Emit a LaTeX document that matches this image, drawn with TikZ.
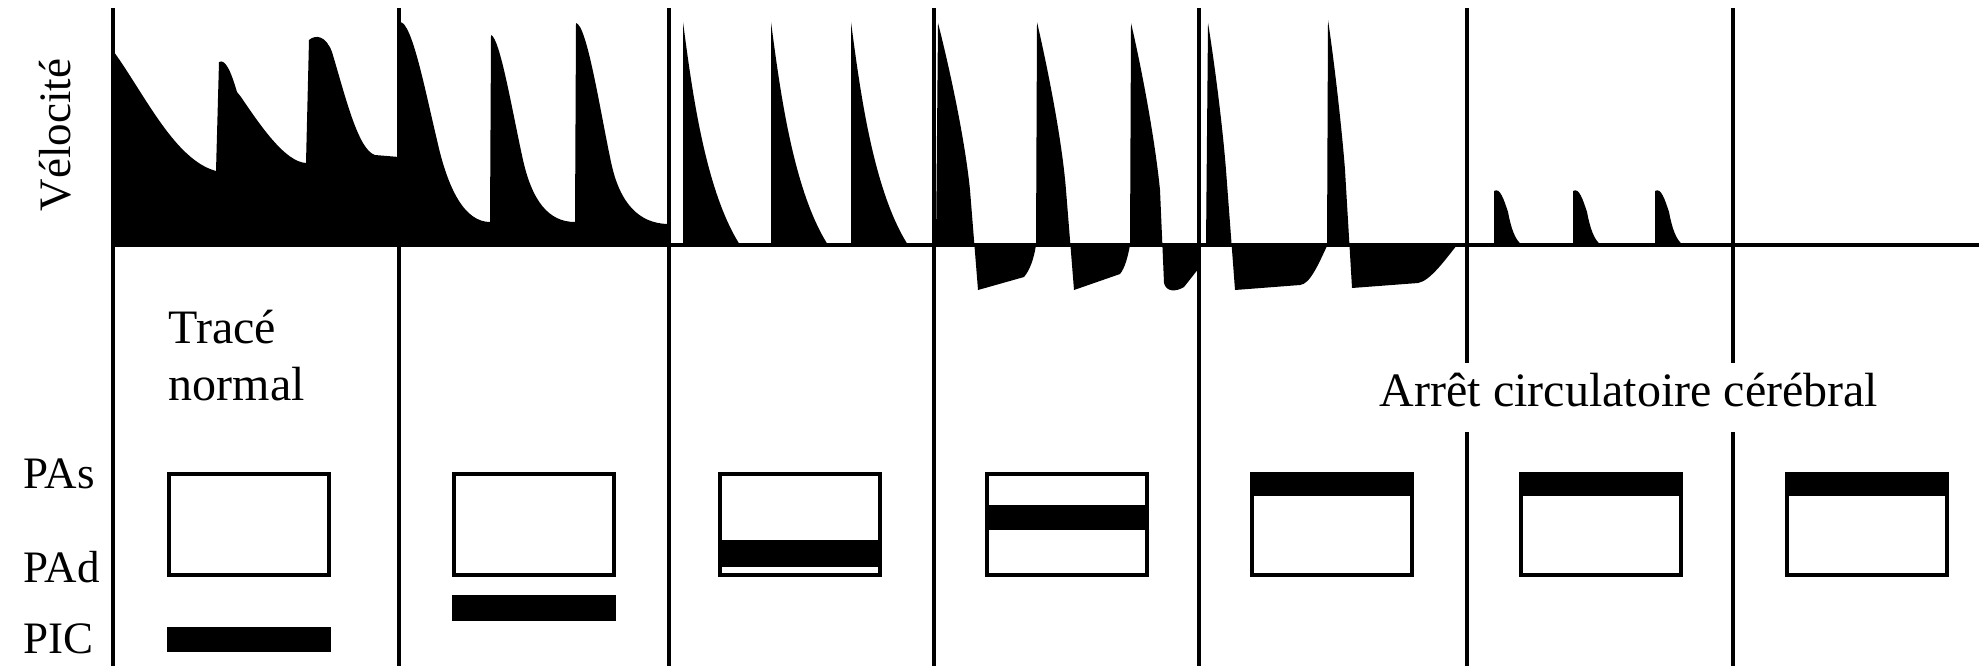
\documentclass[tikz,border=0pt]{standalone}
\usepackage{fontspec}
\setmainfont{Liberation Serif}
\usetikzlibrary{positioning}
\tikzset{
  rule/.style={line width=1.15pt,black},
  trace/.style={fill=black},
  gauge/.style={draw=black,line width=1.3pt,minimum width=16mm,minimum height=10.1mm,inner sep=0pt},
  bar/.style={fill=black},
  lbl/.style={font=\fontsize{13.66pt}{16.4pt}\selectfont,inner sep=0pt},
  side/.style={font=\fontsize{12.8pt}{15.4pt}\selectfont,inner sep=0pt},
}
\begin{document}
\begin{tikzpicture}[x=0.1mm,y=-0.1mm]
  \useasboundingbox (0,0) rectangle (1979,666);
  % velocity traces
  \fill[trace] (113,245) -- (114,52) .. controls (145,95) and (175,160) .. (216,171)
    -- (219,62) .. controls (226,58) and (232,75) .. (237,92) -- (241,97)
    .. controls (260,125) and (285,162) .. (306,163)
    -- (309,40) .. controls (316,34) and (326,36) .. (332,52)
    .. controls (345,95) and (358,150) .. (375,155) -- (399,157) -- (399,245) -- cycle;
  \fill[trace] (399,245) -- (400,22) .. controls (412,22) and (425,90) .. (437,140)
    .. controls (448,190) and (465,222) .. (490,222)
    -- (491,35) .. controls (500,38) and (512,110) .. (523,160)
    .. controls (532,200) and (548,222) .. (575,222)
    -- (576,23) .. controls (587,25) and (600,110) .. (611,162)
    .. controls (620,205) and (640,223) .. (667,224) -- (667,245) -- cycle;
  \foreach \s in {683,771,851}
    \fill[trace] (\s,245) -- (\s,22) .. controls ({\s+9},90) and ({\s+22},190) .. ({\s+57},245) -- cycle;
  \fill[trace] (936,245) -- (938,23) .. controls (950,70) and (965,140) .. (970,190) -- (978,290)
    -- (1024,277) .. controls (1030,270) and (1034,258) .. (1036,245)
    -- (1037,22) .. controls (1048,70) and (1062,140) .. (1066,190) -- (1074,290)
    -- (1120,274) .. controls (1125,268) and (1128,256) .. (1130,245)
    -- (1131,23) .. controls (1142,70) and (1155,140) .. (1160,190) -- (1164,283)
    .. controls (1166,292) and (1176,292) .. (1184,287) -- (1199,268) -- (1199,245) -- cycle;
  \fill[trace] (1206,245) -- (1208,23) .. controls (1214,60) and (1222,120) .. (1226,170) -- (1235,290)
    -- (1300,285) .. controls (1310,284) and (1318,265) .. (1327,246)
    -- (1328,20) .. controls (1334,60) and (1342,130) .. (1345,170) -- (1352,288)
    -- (1418,283) .. controls (1430,281) and (1445,260) .. (1457,245) -- cycle;
  \foreach \s in {1494,1573,1655}
    \fill[trace] (\s,245) -- (\s,191) .. controls ({\s+6},187) and ({\s+10},200) .. ({\s+14},212)
      .. controls ({\s+17},228) and ({\s+21},240) .. ({\s+28},245) -- cycle;
  % grid
  \draw[rule] (113,245) -- (1979,245);
  \foreach \x in {113,399,669,934,1199}
    \draw[rule] (\x,8) -- (\x,666);
  \foreach \x in {1467,1733}
    \draw[rule] (\x,8) -- (\x,363) (\x,432) -- (\x,666);
  % labels
  \node[side,rotate=90,anchor=base] (vel) at (70,135) {Vélocité};
  \node[lbl,anchor=base west] (trace) at (168,343) {Tracé};
  \node[lbl,anchor=base west] (normal) at (168,400) {normal};
  \node[lbl,anchor=base] (acc) at (1629,406) {Arrêt circulatoire cérébral};
  \node[side,anchor=base west] (pas) at (23,488) {PAs};
  \node[side,anchor=base west] (pad) at (23,582) {PAd};
  \node[side,anchor=base west] (pic) at (23,653) {PIC};
  % pressure boxes
  \foreach \c/\x in {1/249,2/534,3/800,4/1067,5/1332,6/1601,7/1867}
    \node[gauge] (g\c) at (\x,524.5) {};
  \fill[bar] (g1.west |- 0,627) rectangle (g1.east |- 0,652);
  \fill[bar] (g2.west |- 0,595) rectangle (g2.east |- 0,621);
  \foreach \c/\a/\b in {3/540/567,4/505/530,5/472/496,6/472/496,7/472/496}
    \fill[bar] (g\c.west |- 0,\a) rectangle (g\c.east |- 0,\b);
\end{tikzpicture}
\end{document}
